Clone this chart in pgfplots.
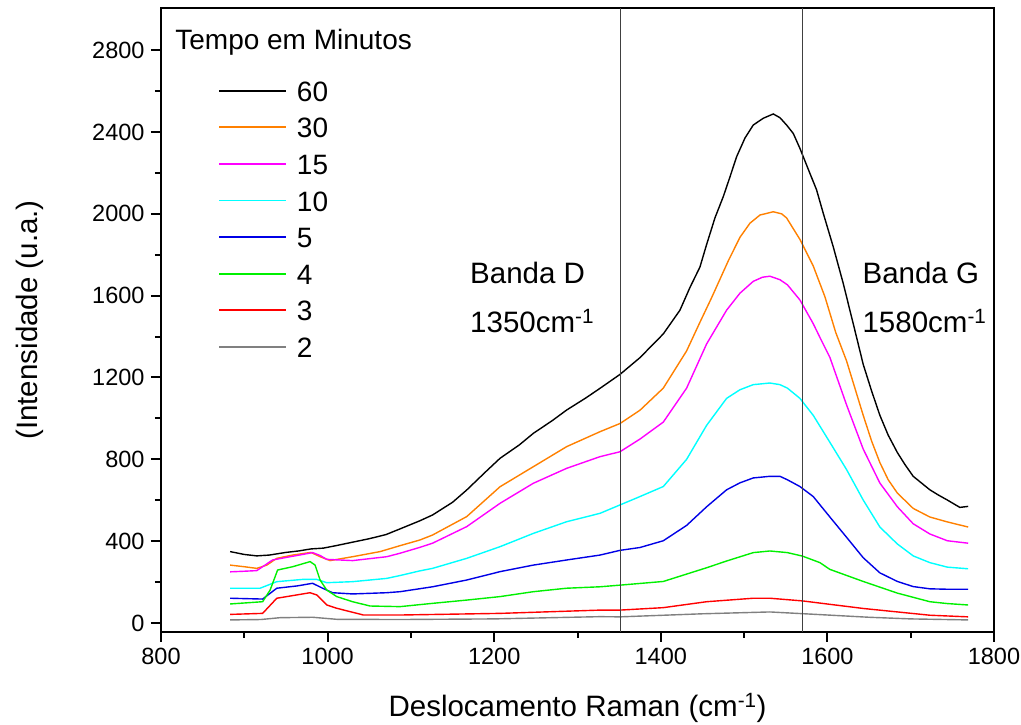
\documentclass[border=0pt]{standalone}
\usepackage{fontspec}
\setmainfont{Liberation Sans}
\usepackage{pgfplots}
\pgfplotsset{compat=1.18}
\definecolor{corange}{RGB}{255,128,0}
\definecolor{cmag}{RGB}{255,0,255}
\definecolor{ccyan}{RGB}{0,255,255}
\definecolor{cblue}{RGB}{0,0,230}
\definecolor{cgreen}{RGB}{0,240,0}
\definecolor{cred}{RGB}{255,0,0}
\definecolor{cgray}{RGB}{128,128,128}
\begin{document}
\begin{tikzpicture}
\useasboundingbox (-161pt,-93pt) rectangle (860pt,632pt);
\begin{axis}[
  at={(0pt,0pt)}, anchor=south west,
  scale only axis, width=833pt, height=624pt,
  xmin=800, xmax=1800, ymin=-44, ymax=3006,
  xtick={800,1000,...,1800}, ytick={0,400,...,2800},
  minor x tick num=1, minor y tick num=1,
  xtick pos=lower, ytick pos=left, tick align=outside,
  major tick length=10pt, minor tick length=6pt,
  axis line style={line width=2.5pt},
  tick style={line width=2pt, black},
  tick label style={font=\fontsize{23.5}{28}\selectfont},
  yticklabel style={xshift=-3pt},
  xticklabel style={yshift=-3pt},
  /pgf/number format/assume math mode=true,
  /pgf/number format/1000 sep={},
  xlabel={Deslocamento Raman (cm\textsuperscript{-1})},
  ylabel={(Intensidade (u.a.)},
  label style={font=\fontsize{29.5}{34}\selectfont},
  xlabel style={at={(axis description cs:0.5,-0.1362)}, anchor=base},
  ylabel style={at={(axis description cs:-0.1477,0.5)}, anchor=base},
  legend style={draw=none, fill=none, inner sep=0pt,
    at={(axis description cs:0.0684,0.8846)}, anchor=north west,
    font=\fontsize{28}{32}\selectfont, row sep=15.6pt, column sep=10pt,
    nodes={inner sep=0pt, text height=21pt, text depth=0pt}},
  legend cell align=left,
  legend image code/.code={\draw[#1, line width=1.8pt] (0pt,0pt) -- (67pt,0pt);},
  every axis plot/.append style={line width=1.4pt},
]
% 60
\addplot[black] coordinates {
(883,349)(900,335)(915,328)(930,332)(950,345)(965,352)(980,362)(995,366)(1010,378)(1030,395)(1050,412)(1070,432)(1087,460)(1111,500)(1126,528)(1150,590)(1167,650)(1190,740)(1207,805)(1230,870)(1247,927)(1270,990)(1287,1041)(1310,1100)(1327,1147)(1351,1215)(1375,1297)(1403,1413)(1423,1529)(1435,1640)(1447,1740)(1455,1850)(1465,1980)(1475,2084)(1483,2180)(1491,2279)(1501,2370)(1511,2434)(1523,2467)(1535,2488)(1543,2470)(1551,2434)(1559,2393)(1567,2320)(1579,2198)(1587,2117)(1595,2003)(1607,1839)(1619,1660)(1633,1430)(1643,1264)(1653,1135)(1663,1015)(1673,918)(1684,833)(1693,775)(1703,717)(1713,684)(1723,651)(1733,626)(1744,601)(1759,565)(1769,570)
};
\addlegendentry{60}
% 30
\addplot[corange] coordinates {
(883,283)(900,275)(915,267)(927,283)(939,316)(958,332)(980,345)(991,324)(1003,305)(1030,324)(1063,349)(1087,378)(1111,406)(1126,430)(1167,520)(1207,666)(1247,764)(1287,862)(1327,935)(1351,975)(1375,1040)(1403,1148)(1431,1330)(1447,1470)(1461,1590)(1481,1770)(1495,1885)(1507,1954)(1519,1994)(1535,2010)(1545,2000)(1551,1980)(1567,1875)(1583,1745)(1597,1595)(1610,1420)(1623,1281)(1643,1015)(1653,890)(1663,784)(1673,700)(1684,635)(1703,560)(1723,518)(1744,494)(1769,469)
};
\addlegendentry{30}
% 15
\addplot[cmag] coordinates {
(883,250)(900,253)(915,256)(934,308)(951,321)(970,335)(982,344)(991,330)(999,311)(1030,305)(1071,324)(1087,341)(1111,370)(1126,390)(1167,471)(1207,585)(1247,683)(1287,756)(1327,813)(1351,837)(1375,899)(1403,982)(1431,1148)(1455,1364)(1479,1529)(1495,1612)(1511,1670)(1522,1690)(1531,1695)(1543,1678)(1552,1653)(1567,1579)(1583,1463)(1591,1396)(1603,1298)(1623,1066)(1643,850)(1663,684)(1684,568)(1703,485)(1723,435)(1744,402)(1769,390)
};
\addlegendentry{15}
% 10
\addplot[ccyan] coordinates {
(883,170)(919,170)(939,202)(970,213)(987,213)(999,197)(1030,202)(1071,218)(1087,232)(1111,255)(1126,267)(1167,316)(1207,373)(1247,438)(1287,495)(1327,536)(1351,577)(1375,618)(1403,667)(1431,800)(1455,966)(1479,1098)(1495,1140)(1511,1165)(1531,1173)(1543,1165)(1552,1148)(1567,1098)(1583,1015)(1603,883)(1623,750)(1643,601)(1663,469)(1684,386)(1703,328)(1723,295)(1744,273)(1769,265)
};
\addlegendentry{10}
% 5
\addplot[cblue] coordinates {
(883,121)(922,117)(939,170)(963,181)(982,194)(994,170)(1006,148)(1030,142)(1071,148)(1087,153)(1126,177)(1167,210)(1207,251)(1247,283)(1287,308)(1327,332)(1351,355)(1375,369)(1403,402)(1431,477)(1455,568)(1479,651)(1495,685)(1511,709)(1531,717)(1543,717)(1552,700)(1567,667)(1583,618)(1603,518)(1623,419)(1643,319)(1663,245)(1684,203)(1703,178)(1723,167)(1744,165)(1769,165)
};
\addlegendentry{5}
% 4
\addplot[cgreen] coordinates {
(883,93)(922,104)(931,161)(940,259)(958,275)(979,300)(985,283)(991,210)(999,161)(1011,129)(1030,104)(1051,83)(1087,80)(1126,96)(1167,112)(1207,129)(1247,153)(1287,170)(1327,177)(1351,185)(1403,203)(1455,270)(1479,303)(1511,344)(1531,352)(1552,344)(1570,327)(1591,295)(1603,262)(1643,203)(1684,146)(1723,104)(1744,95)(1769,88)
};
\addlegendentry{4}
% 3
\addplot[cred] coordinates {
(883,42)(922,47)(939,121)(951,129)(979,148)(987,137)(999,88)(1011,72)(1043,39)(1087,39)(1207,47)(1327,63)(1351,63)(1403,75)(1455,104)(1511,121)(1531,121)(1570,108)(1643,71)(1723,38)(1769,30)
};
\addlegendentry{3}
% 2
\addplot[cgray] coordinates {
(883,15)(920,17)(943,26)(982,28)(1011,18)(1087,17)(1200,20)(1327,31)(1351,30)(1450,45)(1531,54)(1591,41)(1650,28)(1700,20)(1769,15)
};
\addlegendentry{2}
\draw[black!75, line width=1pt] (axis cs:1352,-44) -- (axis cs:1352,3006);
\draw[black!75, line width=1pt] (axis cs:1570,-44) -- (axis cs:1570,3006);
\node[anchor=base west, inner sep=0pt, font=\fontsize{28}{32}\selectfont] at (axis cs:817,2801) {Tempo em Minutos};
\node[anchor=base west, inner sep=0pt, font=\fontsize{29.5}{34}\selectfont] at (axis cs:1171,1657) {Banda D};
\node[anchor=base west, inner sep=0pt, font=\fontsize{29.5}{34}\selectfont] at (axis cs:1171,1422) {1350cm\textsuperscript{-1}};
\node[anchor=base west, inner sep=0pt, font=\fontsize{29.5}{34}\selectfont] at (axis cs:1642,1657) {Banda G};
\node[anchor=base west, inner sep=0pt, font=\fontsize{29.5}{34}\selectfont] at (axis cs:1642,1422) {1580cm\textsuperscript{-1}};
\end{axis}
\end{tikzpicture}
\end{document}
